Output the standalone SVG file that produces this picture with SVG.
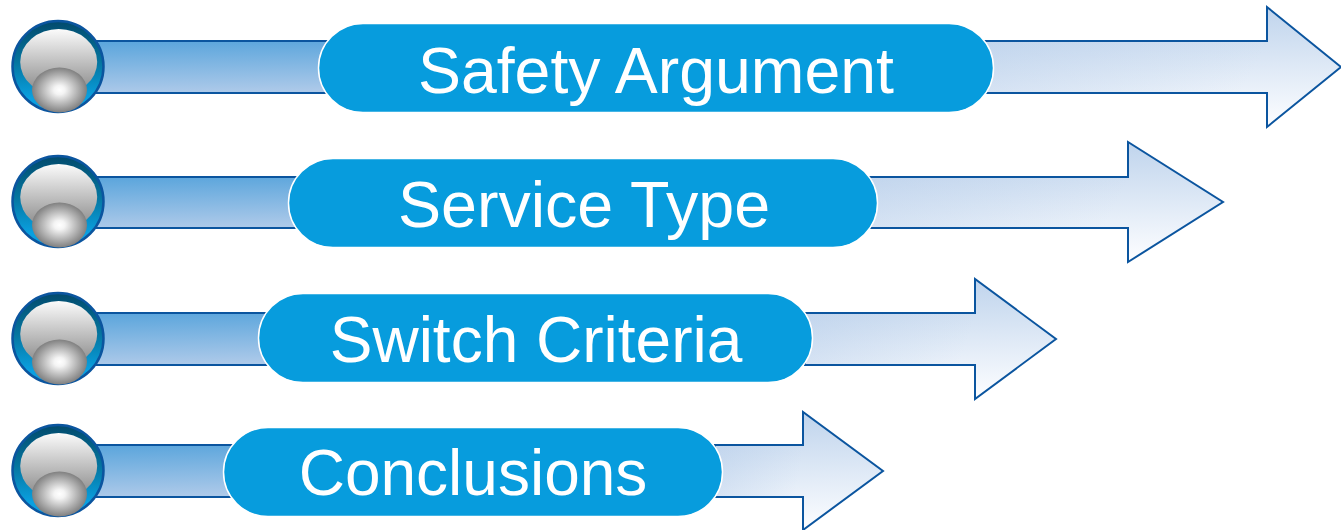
<svg xmlns="http://www.w3.org/2000/svg" xmlns:xlink="http://www.w3.org/1999/xlink" width="1341" height="530" viewBox="0 0 1341 530">
<style>
.tail{fill:url(#tail);stroke:#0b559f;stroke-width:2}
.head{fill:url(#head);stroke:#0b559f;stroke-width:2;stroke-linejoin:miter}
.tint{fill:url(#tint)}
.pill{fill:#079cdd;stroke:#fff;stroke-width:1.5}
.label{font-family:"Liberation Sans",Arial,sans-serif;font-size:64px;fill:#fff;text-anchor:middle}
</style>
<defs>
<linearGradient id="tail" x1="0" y1="0" x2="0.06" y2="1"><stop offset="0" stop-color="#5aa5dc"/><stop offset="1" stop-color="#acc9e9"/></linearGradient>
<linearGradient id="head" x1="0" y1="0" x2="0.03" y2="1"><stop offset="0" stop-color="#bed3ec"/><stop offset="1" stop-color="#fcfdff"/></linearGradient>
<linearGradient id="tint" x1="0" y1="0" x2="1" y2="0.1"><stop offset="0" stop-color="#a9c4e6" stop-opacity="0.35"/><stop offset="1" stop-color="#a9c4e6" stop-opacity="0"/></linearGradient>
<linearGradient id="ring" x1="0" y1="0" x2="0" y2="1"><stop offset="0" stop-color="#024a6c"/><stop offset="0.45" stop-color="#05759f"/><stop offset="0.85" stop-color="#0aa0e0"/></linearGradient>
<linearGradient id="dome" x1="0" y1="0" x2="0" y2="1"><stop offset="0" stop-color="#fbfbfb"/><stop offset="1" stop-color="#858585"/></linearGradient>
<radialGradient id="ball"><stop offset="0" stop-color="#ffffff"/><stop offset="0.2" stop-color="#f4f4f4"/><stop offset="1" stop-color="#808080"/></radialGradient>
<g id="bead">
<circle cx="58" cy="66.5" r="45.5" fill="url(#ring)" stroke="#0b559f" stroke-width="2.5"/>
<ellipse cx="58.7" cy="62" rx="38.5" ry="33" fill="url(#dome)"/>
<ellipse cx="59.5" cy="90" rx="27.5" ry="22.5" fill="url(#ball)"/>
</g>
</defs>
<g id="connectors"/>
<g id="node-1">
<rect class="tail" x="90" y="41" width="240" height="52"/>
<path class="head" d="M985 41H1267V7L1341 67L1267 127V93H985Z"/>
<rect class="tint" x="985" y="42" width="282" height="50"/>
<use xlink:href="#bead" href="#bead"/>
<rect class="pill" x="318.500" y="23.500" width="675" height="89" rx="44.500"/>
<text class="label" x="656" y="92.500" style="font-size:64.400px">Safety Argument</text>
</g>
<g id="node-2">
<rect class="tail" x="90" y="177" width="210" height="51"/>
<path class="head" d="M870 177H1128V142L1223 202L1128 262V228H870Z"/>
<rect class="tint" x="870" y="178" width="258" height="49"/>
<use xlink:href="#bead" href="#bead" y="135"/>
<rect class="pill" x="288.500" y="158.500" width="589" height="89" rx="44.500"/>
<text class="label" x="584" y="227" style="font-size:64.600px">Service Type</text>
</g>
<g id="node-3">
<rect class="tail" x="90" y="313" width="180" height="52"/>
<path class="head" d="M805 313H975V279L1056 339L975 399V365H805Z"/>
<rect class="tint" x="805" y="314" width="170" height="50"/>
<use xlink:href="#bead" href="#bead" y="272"/>
<rect class="pill" x="258.500" y="293.500" width="554" height="89" rx="44.500"/>
<text class="label" x="536" y="361.500">Switch Criteria</text>
</g>
<g id="node-4">
<rect class="tail" x="90" y="445" width="145" height="52"/>
<path class="head" d="M715 445H803V412L883 471L803 530V497H715Z"/>
<rect class="tint" x="715" y="446" width="88" height="50"/>
<use xlink:href="#bead" href="#bead" y="404"/>
<rect class="pill" x="223.500" y="427.500" width="499" height="89" rx="44.500"/>
<text class="label" x="473" y="494.500">Conclusions</text>
</g>
</svg>
